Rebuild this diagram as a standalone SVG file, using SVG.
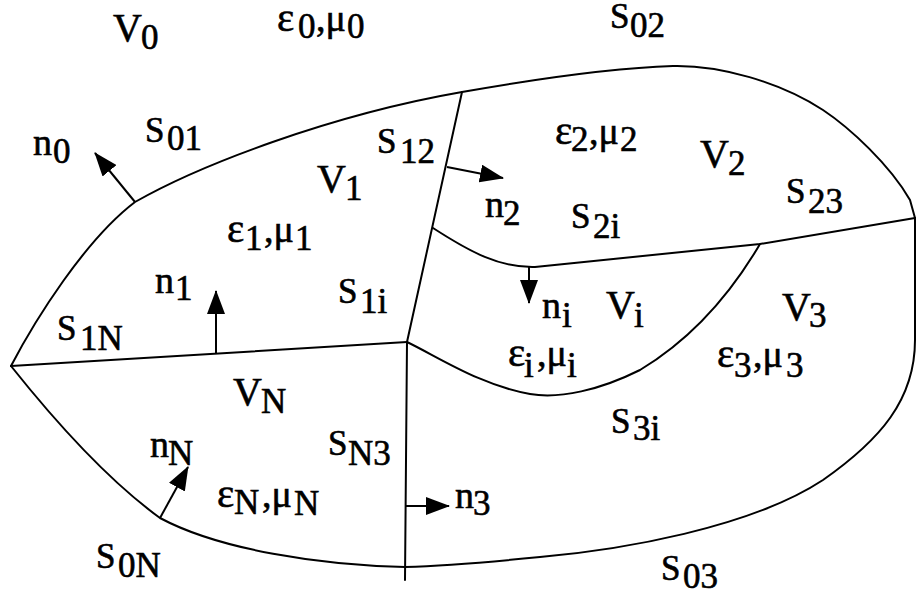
<svg xmlns="http://www.w3.org/2000/svg" width="916" height="598" viewBox="0 0 916 598">
<style>
.bd{fill:none;stroke:#000;stroke-width:2;stroke-linejoin:round;stroke-linecap:round}
.ar{fill:none;stroke:#000;stroke-width:2;marker-end:url(#ah)}
.lb{font-family:'Liberation Serif','Times New Roman',serif;fill:#000;stroke:#000;stroke-width:0.6}
.v{font-size:40px}
.m{font-size:38px}
.e{font-size:41px}
.s{font-size:35px}
.sub{font-size:35px}
</style>
<defs>
<marker id="ah" markerUnits="userSpaceOnUse" markerWidth="24" markerHeight="18" refX="23" refY="9" orient="auto">
<path d="M0,0 L24,9 L0,18 z" fill="#000"/>
</marker>
</defs>
<rect width="916" height="598" fill="#fff"/>
<g id="connectors">
<path class="bd" d="M11,366 C35,320 85,240 135,202 C200,165 330,115 462,92"/>
<path class="bd" d="M462,92 C530,80 610,68 673,66 C720,65 780,82 823,110 C850,128 890,165 910,200 L915,218"/>
<path class="bd" d="M915,218 L915,340 C915,400 880,440 823,480 C750,528 620,550 540,557 C480,563 440,566 405,567"/>
<path class="bd" d="M11,366 C50,415 105,478 160,518 C220,550 320,565 405,567"/>
<path class="bd" d="M462,92 L407,342"/>
<path class="bd" d="M11,366 L407,342"/>
<path class="bd" d="M407,342 L405,580"/>
<path class="bd" d="M433,228 C470,252 500,268 535,267 L760,244 L915,218"/>
<path class="bd" d="M407,342 C440,358 480,385 530,394 C560,399 600,390 640,370 C690,340 730,295 760,244"/>
<path class="ar" d="M135,202 L95,153"/>
<path class="ar" d="M447,167 L503,178"/>
<path class="ar" d="M529,267 L529,303"/>
<path class="ar" d="M216,354 L216,291"/>
<path class="ar" d="M160,518 L188,467"/>
<path class="ar" d="M406,506 L449,506"/>
</g>
<g id="labels" font-family="'Liberation Serif', 'Times New Roman', serif">
<g id="V0"><text class="lb"><tspan class="v" x="113" y="41">V</tspan><tspan class="sub" x="141" y="49">0</tspan></text></g>
<g id="eps0"><text class="lb"><tspan class="e" x="277" y="31">ε</tspan><tspan class="sub" x="298" y="38">0</tspan><tspan class="m" x="316" y="31">,μ</tspan><tspan class="sub" x="347" y="38">0</tspan></text></g>
<g id="S02"><text class="lb"><tspan class="s" x="610" y="28">S</tspan><tspan class="sub" x="630" y="37">02</tspan></text></g>
<g id="S01"><text class="lb"><tspan class="s" x="145" y="142">S</tspan><tspan class="sub" x="167" y="150">01</tspan></text></g>
<g id="n0"><text class="lb"><tspan class="m" x="33" y="155">n</tspan><tspan class="sub" x="53" y="163">0</tspan></text></g>
<g id="S12"><text class="lb"><tspan class="s" x="377" y="153">S</tspan><tspan class="sub" x="400" y="163">12</tspan></text></g>
<g id="V1"><text class="lb"><tspan class="v" x="317" y="192">V</tspan><tspan class="sub" x="345" y="200">1</tspan></text></g>
<g id="eps1"><text class="lb"><tspan class="e" x="227" y="242">ε</tspan><tspan class="sub" x="245" y="250">1</tspan><tspan class="m" x="264" y="242">,μ</tspan><tspan class="sub" x="295" y="250">1</tspan></text></g>
<g id="eps2"><text class="lb"><tspan class="e" x="555" y="144">ε</tspan><tspan class="sub" x="571" y="151">2</tspan><tspan class="m" x="589" y="144">,μ</tspan><tspan class="sub" x="620" y="151">2</tspan></text></g>
<g id="V2"><text class="lb"><tspan class="v" x="700" y="167">V</tspan><tspan class="sub" x="728" y="175">2</tspan></text></g>
<g id="S23"><text class="lb"><tspan class="s" x="786" y="203">S</tspan><tspan class="sub" x="808" y="213">23</tspan></text></g>
<g id="n2"><text class="lb"><tspan class="m" x="485" y="217">n</tspan><tspan class="sub" x="503" y="225">2</tspan></text></g>
<g id="S2i"><text class="lb"><tspan class="s" x="571" y="228">S</tspan><tspan class="sub" x="593" y="238">2i</tspan></text></g>
<g id="S1i"><text class="lb"><tspan class="s" x="338" y="303">S</tspan><tspan class="sub" x="360" y="313">1i</tspan></text></g>
<g id="n1"><text class="lb"><tspan class="m" x="155" y="293">n</tspan><tspan class="sub" x="175" y="300">1</tspan></text></g>
<g id="S1N"><text class="lb"><tspan class="s" x="57" y="340">S</tspan><tspan class="sub" x="80" y="350">1N</tspan></text></g>
<g id="ni"><text class="lb"><tspan class="m" x="542" y="318">n</tspan><tspan class="sub" x="562" y="327">i</tspan></text></g>
<g id="Vi"><text class="lb"><tspan class="v" x="606" y="318">V</tspan><tspan class="sub" x="634" y="327">i</tspan></text></g>
<g id="V3"><text class="lb"><tspan class="v" x="782" y="320">V</tspan><tspan class="sub" x="809" y="327">3</tspan></text></g>
<g id="epsi"><text class="lb"><tspan class="e" x="508" y="366">ε</tspan><tspan class="sub" x="524" y="377">i</tspan><tspan class="m" x="537" y="366">,μ</tspan><tspan class="sub" x="567" y="377">i</tspan></text></g>
<g id="eps3"><text class="lb"><tspan class="e" x="717" y="367">ε</tspan><tspan class="sub" x="734" y="377">3</tspan><tspan class="m" x="753" y="367">,μ</tspan><tspan class="sub" x="786" y="377">3</tspan></text></g>
<g id="VN"><text class="lb"><tspan class="v" x="233" y="405">V</tspan><tspan class="sub" x="261" y="413">N</tspan></text></g>
<g id="S3i"><text class="lb"><tspan class="s" x="611" y="433">S</tspan><tspan class="sub" x="633" y="440">3i</tspan></text></g>
<g id="SN3"><text class="lb"><tspan class="s" x="328" y="455">S</tspan><tspan class="sub" x="348" y="465">N3</tspan></text></g>
<g id="nN"><text class="lb"><tspan class="m" x="150" y="457">n</tspan><tspan class="sub" x="168" y="465">N</tspan></text></g>
<g id="epsN"><text class="lb"><tspan class="e" x="217" y="507">ε</tspan><tspan class="sub" x="234" y="514">N</tspan><tspan class="m" x="262" y="507">,μ</tspan><tspan class="sub" x="294" y="515">N</tspan></text></g>
<g id="n3"><text class="lb"><tspan class="m" x="455" y="508">n</tspan><tspan class="sub" x="473" y="515">3</tspan></text></g>
<g id="S0N"><text class="lb"><tspan class="s" x="96" y="568">S</tspan><tspan class="sub" x="118" y="577">0N</tspan></text></g>
<g id="S03"><text class="lb"><tspan class="s" x="661" y="580">S</tspan><tspan class="sub" x="683" y="588">03</tspan></text></g>
</g>
</svg>
